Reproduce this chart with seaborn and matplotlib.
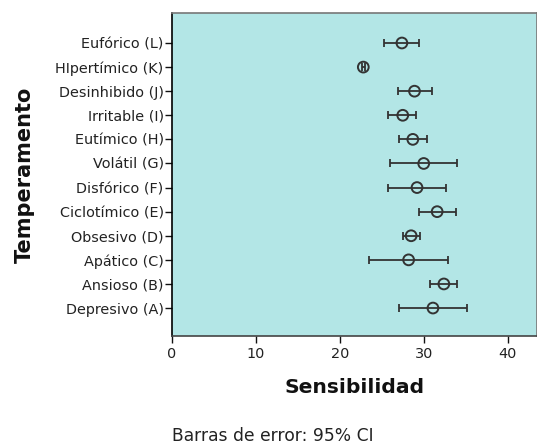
import numpy as np
import pandas as pd
import seaborn as sns
import matplotlib.pyplot as plt

categories = ["Eufórico (L)", "HIpertímico (K)", "Desinhibido (J)", "Irritable (I)",
              "Eutímico (H)", "Volátil (G)", "Disfórico (F)", "Ciclotímico (E)",
              "Obsesivo (D)", "Apático (C)", "Ansioso (B)", "Depresivo (A)"]
means = [27.4, 22.8, 28.9, 27.5, 28.7, 30.0, 29.2, 31.6, 28.5, 28.2, 32.4, 31.1]
lower = [25.3, 22.65, 26.9, 25.8, 27.1, 26.0, 25.7, 29.4, 27.5, 23.5, 30.8, 27.0]
upper = [29.4, 22.95, 31.0, 29.1, 30.4, 34.0, 32.7, 33.8, 29.5, 32.9, 34.0, 35.2]
xticks = [0, 10, 20, 30, 40]

df = pd.DataFrame({"Temperamento": categories, "Sensibilidad": means,
                   "lo": lower, "hi": upper})

sns.set_theme(style="white")
plt.rcParams['font.family'] = ['DejaVu Sans']

fig = plt.figure(figsize=(5.37, 4.45), dpi=100)
ax = fig.add_axes([172/537, 1 - 336/445, 365/537, 323/445])
ax.set_facecolor("#b3e6e6")

m = np.array(means); lo = np.array(lower); hi = np.array(upper)
ax.errorbar(x=df["Sensibilidad"], y=df["Temperamento"], xerr=[m - lo, hi - m],
            fmt='none', ecolor='#333333', elinewidth=1.3, capsize=3, capthick=1.3, zorder=2)
sns.scatterplot(data=df, x="Sensibilidad", y="Temperamento", ax=ax, marker='o', s=60,
                facecolor='none', edgecolor='#333333', linewidth=1.4, zorder=3)

ax.set_xlim(0, 43.5)
ax.set_ylim(12.16, -1.245)
ax.set_xticks(xticks)
ax.set_xticklabels([str(t) for t in xticks])
ax.tick_params(axis='both', length=5, width=1, color='#111111', labelsize=10.4,
               labelcolor='#222222', bottom=True, left=True, direction='out')
ax.tick_params(axis='x', pad=3)
ax.tick_params(axis='y', pad=1)

for side, col in [("left", "#000000"), ("bottom", "#444444"), ("top", "#777777"), ("right", "#777777")]:
    ax.spines[side].set_color(col)
    ax.spines[side].set_linewidth(1.2)

ax.set_xlabel("Sensibilidad", fontsize=14.6, fontweight='bold', color='#111111')
ax.set_ylabel("Temperamento", fontsize=15, fontweight='bold', color='#111111')
ax.xaxis.set_label_coords(0.5, -0.130)
ax.yaxis.set_label_coords(-0.375, 0.5)

fig.text(273/537, 1 - 441/445, "Barras de error: 95% CI", ha='center', va='baseline',
         fontsize=12.3, color='#222222')

fig.savefig("out.png", dpi=100)
